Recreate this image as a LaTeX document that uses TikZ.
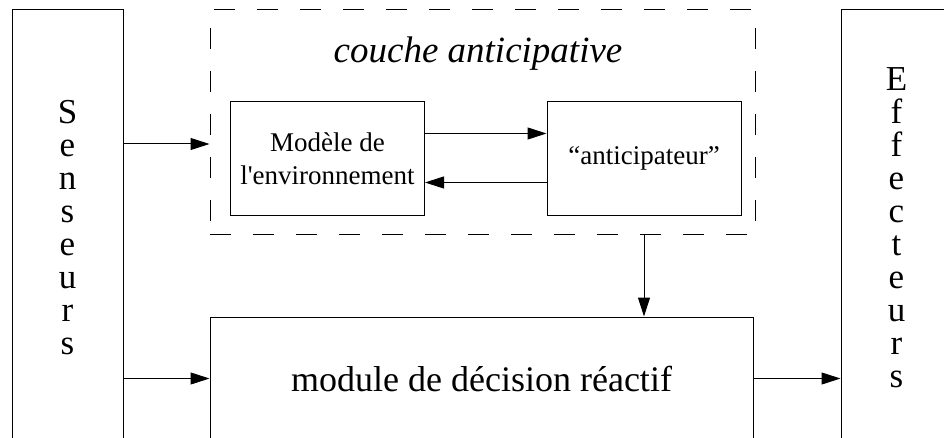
\documentclass[tikz,border=0pt]{standalone}
\usepackage{fontspec}
\setmainfont{Liberation Serif}
\usepackage{tikz}
\usetikzlibrary{arrows.meta,positioning}

\begin{document}
\begin{tikzpicture}[x=1pt,y=-1pt,line width=1pt,
   >={Triangle[length=19pt,width=12pt]},
   bloc/.style={draw,rectangle,inner sep=0pt},
   grand/.style={font=\fontsize{36}{40}\selectfont},
   petit/.style={font=\fontsize{27}{33}\selectfont,align=center},
   pile/.style={font=\fontsize{35}{33}\selectfont,align=center}]
   \clip (0,0) rectangle (944,438);
   \node[bloc,pile,minimum width=111pt,minimum height=436pt] (sens) at (67.5,228) {S\\e\\n\\s\\e\\u\\r\\s};
   \node[bloc,pile,minimum width=111pt,minimum height=436pt] (eff) at (896.5,228) {E\\f\\f\\e\\c\\t\\e\\u\\r\\s};
   \node[bloc,dash pattern=on 21pt off 22pt,minimum width=545pt,minimum height=225pt] (couche) at (482.5,122.5) {};
   \node[font=\fontsize{37}{40}\selectfont\itshape,anchor=base] (titre) at (478,63) {couche anticipative};
   \node[bloc,petit,minimum width=194pt,minimum height=114pt] (modele) at (327.5,158.5) {Modèle de\\l\textquotesingle environnement};
   \node[bloc,petit,minimum width=194pt,minimum height=114pt] (antic) at (644,158.5) {“anticipateur”};
   \node[bloc,grand,minimum width=543pt,minimum height=123pt] (module) at (481.5,378.5) {module de décision réactif};
   \draw[->] (sens.east |- 0,144) -- (couche.west |- 0,144);
   \draw[->] (sens.east |- module) -- (module.west);
   \draw[->] ([yshift=25pt]modele.east) -- ([yshift=25pt]antic.west);
   \draw[->] ([yshift=-24pt]antic.west) -- ([yshift=-24pt]modele.east);
   \draw[->] (antic |- couche.south) -- (antic |- module.north);
   \draw[->] (module.east) -- (eff.west |- module.east);
\end{tikzpicture}
\end{document}
